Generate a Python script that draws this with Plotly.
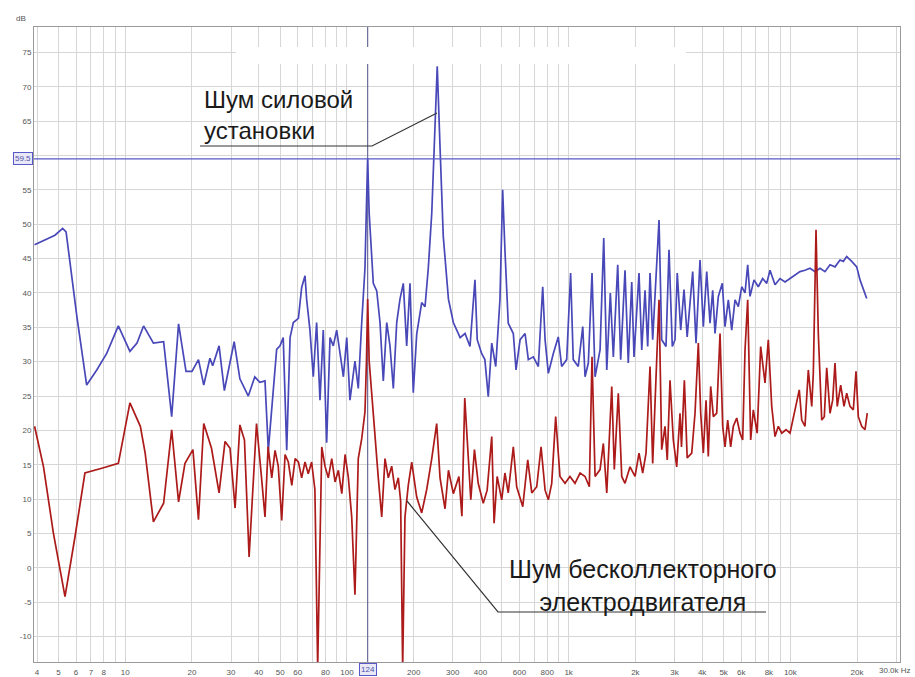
import numpy as np
import plotly.graph_objects as go

# ---------------- data (Hz, dB) ----------------
blue_freq = [3.9, 4.82, 5.22, 5.41, 6.05, 6.70, 7.44, 8.25, 9.31, 10.5, 11.3, 12.1, 13.4, 14.9, 16.2, 17.4,
             18.8, 20.0, 21.4, 22.6, 24.1, 24.8, 26.5, 28.0, 31.0, 32.9, 35.9, 38.4, 40.5, 42.7, 44.2, 48.2,
             49.9, 51.6, 53.5, 55.4, 57.3, 60.4, 62.5, 64.7, 65.8, 68.1, 70.5, 73.0, 75.6, 78.2, 81.0, 83.9,
             86.8, 89.9, 93.1, 96.4, 99.8, 103.2, 108.7, 112.5, 116.6, 120.6, 122.5, 124, 126, 131.5, 136.3,
             141, 145.9, 151.2, 156.4, 161.9, 167.7, 173.5, 179.6, 186, 192.5, 199.2, 206.4, 217.4, 225,
             232.8, 241.3, 249.6, 255.5, 263, 272, 287, 302, 324, 341, 359, 378, 387, 405, 419, 434, 450,
             469, 490, 504, 516, 534, 563, 579, 604, 636, 658, 693, 730, 764, 783, 810, 853, 898, 930, 980,
             1021, 1049, 1105, 1158, 1186, 1227, 1275, 1316, 1386, 1440, 1486, 1542, 1591, 1665, 1717, 1796,
             1858, 1926, 1972, 2077, 2137, 2211, 2273, 2329, 2394, 2453, 2557, 2629, 2749, 2836, 2935, 3019,
             3090, 3202, 3315, 3425, 3627, 3755, 3914, 4051, 4196, 4343, 4465, 4574, 4734, 4934, 5075, 5252,
             5441, 5630, 5826, 6037, 6246, 6422, 6578, 6857, 7170, 7502, 7823, 8097, 8529, 8984, 9463, 9967,
             10498, 11057, 11646, 12268, 12922, 13610, 14335, 15100, 15905, 16753, 17339, 17959, 18921,
             19924, 20621, 22106]
blue_db = [47.0, 48.4, 49.4, 48.9, 36.6, 26.6, 28.8, 31.2, 35.2, 31.5, 32.7, 35.2, 32.7, 32.9, 22.0, 35.5,
           28.6, 28.6, 30.3, 26.6, 30.5, 29.4, 32.3, 25.8, 32.9, 27.5, 25.0, 27.8, 27.0, 27.2, 17.1, 31.8,
           32.3, 33.5, 17.1, 33.5, 35.7, 36.3, 40.8, 42.5, 39.1, 34.6, 27.8, 35.7, 24.4, 34.6, 18.2, 33.5,
           32.3, 34.6, 31.2, 27.8, 33.5, 24.4, 30.1, 26.1, 35.7, 43.6, 52.7, 59.6, 51.6, 41.4, 40.3,
           35.7, 27.2, 35.7, 32.3, 26.1, 35.7, 39.1, 41.4, 32.3, 41.4, 25.5, 34.0, 38.6, 38.0,
           43.6, 51.6, 64.0, 73.0, 61.2, 48.2, 39.1, 35.7, 33.5, 34.1, 32.2, 41.9, 33.2, 31.2, 30.3, 24.9, 32.7,
           29.3, 39.0, 55.0, 46.3, 35.6, 34.1, 28.8, 33.2, 34.1, 30.3, 30.7, 29.3, 40.9, 33.2, 28.3, 31.2, 33.6, 29.3, 30.3,
           42.9, 30.3, 29.3, 35.1, 27.8, 29.8, 42.9, 27.8, 31.7, 48.0, 28.8, 40.0, 30.7, 44.1, 30.3, 43.3,
           29.8, 41.6, 30.7, 42.9, 31.7, 40.4, 32.2, 42.9, 33.2, 39.0, 50.6, 33.2, 32.2, 46.3, 32.2, 33.2,
           42.9, 34.6, 40.5, 33.6, 43.1, 32.7, 44.8, 35.1, 43.1, 35.6, 40.4, 34.1, 39.5, 41.4, 35.1, 39.0,
           34.6, 39.0, 38.0, 40.9, 40.0, 44.1, 39.5, 41.9, 40.9, 42.1, 41.4, 43.3, 41.2, 42.1, 41.6, 42.1,
           42.6, 43.1, 43.3, 43.6, 43.1, 43.6, 43.1, 44.1, 43.8, 44.8, 44.6, 45.3, 44.6,
           43.8, 41.9, 39.2]

red_freq = [3.9, 4.28, 4.74, 5.35, 5.94, 6.58, 7.84, 9.31, 10.5, 11.7, 12.3, 13.4, 14.9, 16.2, 17.4, 18.6,
            20.2, 21.4, 22.6, 24.5, 26.5, 28.2, 29.7, 31.3, 32.9, 34.5, 36.2, 39.1, 41.2, 42.7, 44.1, 45.8,
            47.4, 49.0, 50.8, 52.6, 54.4, 56.4, 58.4, 60.4, 62.5, 64.7, 66.9, 69.3, 71.7, 73.8, 77.0, 79.6,
            82.4, 85.4, 88.4, 91.5, 94.8, 98.1, 101.5, 105.1, 108.7, 112.5, 116.6, 120.6, 122.5, 124, 126,
            133.9, 138.5, 143.5, 148.5, 153.7, 159.2, 164.7, 170.5, 174.7, 178.4, 182.7, 189.1, 196, 206.4,
            217.4, 229, 241.3, 254, 263, 277, 287, 302, 320, 330, 340, 362, 376, 391, 412, 429, 450, 461,
            476, 499, 516, 534, 563, 583, 621, 654, 682, 718, 751, 783, 810, 839, 874, 914, 963, 1014, 1068,
            1126, 1186, 1240, 1275, 1316, 1386, 1434, 1486, 1565, 1607, 1675, 1736, 1796, 1892, 1993, 2077,
            2158, 2234, 2329, 2394, 2453, 2557, 2629, 2721, 2785, 2866, 2966, 3072, 3180, 3229, 3327, 3425,
            3591, 3716, 3846, 3942, 4051, 4166, 4266, 4373, 4495, 4656, 4818, 4953, 5075, 5218, 5382, 5532,
            5730, 5930, 6096, 6246, 6422, 6624, 6808, 7085, 7349, 7687, 7955, 8243, 8529, 8826, 9146, 9562,
            9967, 10498, 10974, 11256, 11646, 12052, 12489, 12697, 13057, 13372, 13855, 14232, 14590, 15100,
            15523, 15905, 16278, 16870, 17463, 17959, 18586, 19237, 19781, 20259, 20992, 21720, 22230]
red_db = [20.6, 14.7, 5.1, -4.2, 4.6, 13.8, 14.5, 15.2, 24.0, 20.6, 16.7, 6.7, 9.4, 20.1, 9.6, 15.2,
          17.2, 7.0, 21.0, 17.4, 10.9, 18.4, 17.4, 8.7, 20.8, 18.6, 1.6, 21.0, 13.1, 7.4, 17.6, 13.1,
          17.1, 14.8, 6.9, 16.5, 15.4, 12.0, 15.9, 15.4, 13.1, 15.4, 13.7, 15.4, 11.4, -14.5, 17.6, 14.8,
          13.1, 15.9, 12.5, 14.2, 10.8, 16.5, 13.1, 7.4, -3.9, 15.9, 18.8, 22.7, 30.1, 39.1, 30.1,
          18.8, 13.1, 7.4, 15.9, 13.1, 14.8, 11.4, 13.1, 9.7, -14.5, 7.4, 12.0, 15.4, 10.3,
          8.0, 11.4, 15.9, 21.0, 13.1, 8.6, 14.2, 10.8, 13.3, 7.5, 24.7, 9.9, 17.2, 12.3, 9.4, 11.3, 19.1, 6.5,
          13.3, 9.9, 13.8, 10.9, 17.6, 11.8, 8.9, 15.7, 10.9, 11.8, 17.6, 11.3, 9.9, 12.3, 22.0, 13.3, 12.3, 13.3, 12.3,
          13.8, 13.3, 11.8, 30.7, 13.3, 14.3, 18.1, 10.9, 26.4, 14.3, 25.4, 13.3, 12.3, 14.7, 13.3, 16.7,
          13.8, 16.7, 29.3, 15.2, 23.5, 39.0, 17.2, 20.6, 15.7, 27.3, 18.6, 14.7, 22.5, 17.6, 27.3, 16.0,
          16.7, 22.5, 32.7, 22.5, 16.7, 24.4, 16.2, 26.4, 22.0, 22.5, 34.1, 20.6, 17.6, 21.5, 17.6, 20.6,
          21.8, 19.6, 18.6, 31.7, 39.0, 18.6, 23.0, 19.6, 32.2, 26.9, 33.2, 23.5, 19.1, 20.6, 19.6, 20.1,
          19.6, 23.0, 25.9, 21.5, 20.6, 28.8, 23.5, 28.3, 49.2, 34.1, 21.5, 22.0, 29.1, 22.5,
          24.4, 29.8, 23.5, 26.6, 23.5, 25.4, 23.5, 23.0, 28.6, 22.0, 20.6, 20.1, 22.5]

# axis ticks
x_labels = {4: "4", 5: "5", 6: "6", 7: "7", 8: "8", 10: "10", 20: "20", 30: "30", 40: "40", 50: "50",
            60: "60", 80: "80", 100: "100", 200: "200", 300: "300", 400: "400", 600: "600", 800: "800",
            1000: "1k", 2000: "2k", 3000: "3k", 4000: "4k", 5000: "5k", 6000: "6k", 8000: "8k",
            10000: "10k", 20000: "20k"}
x_end_label = "30.0k Hz"
y_ticks = [-10, -5, 0, 5, 10, 15, 20, 25, 30, 35, 40, 45, 50, 55, 60, 65, 70, 75]
cursor_freq = 124
cursor_db = 59.5

# grid at every 1..9 multiple of each decade
x_grid = []
for dec in [1, 10, 100, 1000, 10000]:
    for m in range(1, 10):
        v = m * dec
        if 3.8 <= v <= 31000:
            x_grid.append(v)
x_text = [x_labels.get(v, "") for v in x_grid]
y_text = ["" if v == 60 else str(v) for v in y_ticks]

W, H = 915, 677
ML, MR, MT, MB = 34, 15, 27, 15
pw, ph = W - ML - MR, H - MT - MB


def px(x):
    return (x - ML) / pw


def py(y):
    return (H - MB - y) / ph


fig = go.Figure()
fig.add_trace(go.Scatter(x=[cursor_freq, cursor_freq], y=[-20, 90], mode="lines",
                         line=dict(color="#6b6b98", width=1.2), hoverinfo="skip"))
fig.add_trace(go.Scatter(x=blue_freq, y=blue_db, mode="lines",
                         line=dict(color="#4848b8", width=1.7)))
fig.add_trace(go.Scatter(x=red_freq, y=red_db, mode="lines",
                         line=dict(color="#ac1a1a", width=1.7)))

fig.update_layout(
    width=W, height=H, margin=dict(l=ML, r=MR, t=MT, b=MB, autoexpand=False),
    paper_bgcolor="white", plot_bgcolor="white", showlegend=False,
    font=dict(family="Liberation Sans, Arial, sans-serif", size=9, color="#555"),
    xaxis=dict(type="log", range=[np.log10(3.877), np.log10(31236)], automargin=False,
               tickvals=x_grid, ticktext=x_text, showgrid=True, gridcolor="#d6d6d6",
               gridwidth=1, zeroline=False, showline=True, linecolor="#9a9a9a", mirror=True,
               ticks="", ticklabelstandoff=2, tickfont=dict(size=8, color="#555")),
    yaxis=dict(range=[-13.7, 78.7], tickvals=y_ticks, ticktext=y_text, showgrid=True, automargin=False,
               gridcolor="#d6d6d6", zeroline=False, showline=True, linecolor="#9a9a9a",
               mirror=True, ticks="", tickfont=dict(size=8, color="#555")),
)

# horizontal cursor line
fig.add_shape(type="line", xref="paper", yref="y", x0=0, x1=1, y0=cursor_db, y1=cursor_db,
              line=dict(color="#5858c8", width=1.2))
# blank band at top (masked title area in source)
fig.add_shape(type="rect", xref="paper", yref="paper", x0=px(236), x1=px(686), y0=py(64), y1=py(47),
              fillcolor="white", line=dict(width=0), layer="above")

# cursor labels
fig.add_annotation(xref="paper", yref="y", x=0, y=cursor_db, xanchor="right", yanchor="middle",
                   text="59.5", showarrow=False, font=dict(size=8, color="#5050b0"),
                   bordercolor="#5858c8", borderwidth=1, borderpad=1, bgcolor="#e8e8f6", xshift=-1)
fig.add_annotation(xref="x", yref="paper", x=np.log10(cursor_freq), y=0, xanchor="center",
                   yanchor="top", text="124", showarrow=False, font=dict(size=8, color="#5050b0"),
                   bordercolor="#5858c8", borderwidth=1, borderpad=1, bgcolor="#e8e8f6", yshift=-1)
fig.add_annotation(xref="paper", yref="paper", x=px(14), y=py(18), text="dB", showarrow=False,
                   font=dict(size=8, color="#555"), xanchor="left", yanchor="middle")
fig.add_annotation(xref="paper", yref="paper", x=px(913), y=0, xanchor="right", yanchor="top",
                   text=x_end_label, showarrow=False, font=dict(size=8, color="#555"), yshift=-2)

# callouts
fig.add_annotation(xref="paper", yref="paper", x=px(202), y=py(84), xanchor="left", yanchor="top",
                   align="left", text="Шум силовой<br>установки", showarrow=False,
                   font=dict(size=24, color="#1a1a1a", family="Liberation Sans, Arial, sans-serif"))
fig.add_shape(type="path", xref="paper", yref="paper",
              path=f"M {px(200)} {py(146)} L {px(372)} {py(146)} L {px(437)} {py(113)}",
              line=dict(color="#333", width=1.2))
fig.add_annotation(xref="paper", yref="paper", x=px(643), y=py(553), xanchor="center", yanchor="top",
                   align="center", text="Шум бесколлекторного<br>электродвигателя", showarrow=False,
                   font=dict(size=25, color="#1a1a1a", family="Liberation Sans, Arial, sans-serif"))
fig.add_shape(type="path", xref="paper", yref="paper",
              path=f"M {px(407)} {py(501)} L {px(498)} {py(612)} L {px(766)} {py(612)}",
              line=dict(color="#333", width=1.2))

fig.write_html("out.html", config={"displayModeBar": False},
               post_script="document.body.style.margin='0';document.body.style.padding='0';")
